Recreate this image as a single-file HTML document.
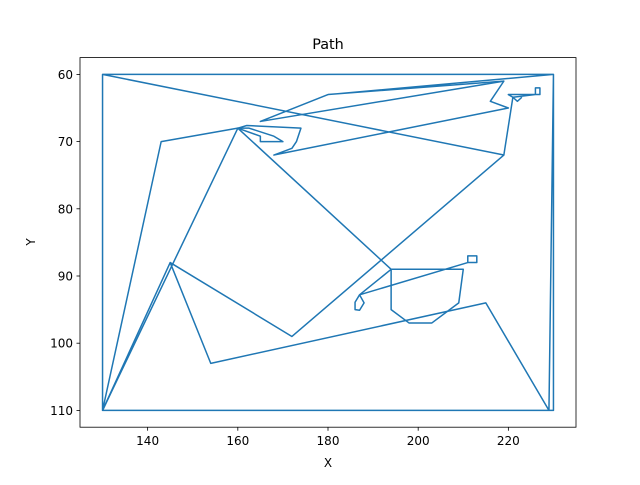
<!DOCTYPE html>
<html><head><meta charset="utf-8"><style>
body{margin:0;background:#fff;font-family:"Liberation Sans","DejaVu Sans",sans-serif}
</style></head><body>
<svg id="chart" width="640" height="480" xmlns="http://www.w3.org/2000/svg" font-family="DejaVu Sans, Liberation Sans, sans-serif">
<rect width="640" height="480" fill="#fff"/>
<text x="328" y="49" font-size="14.4" text-anchor="middle">Path</text>
<text x="328" y="467" font-size="12" text-anchor="middle">X</text>
<text x="35" y="242" font-size="12" text-anchor="middle" transform="rotate(-90 35 242)">Y</text>
<g id="ticks"></g>
<g id="lines"></g>
<rect x="80" y="57.6" width="496" height="369.6" fill="none" stroke="#000" stroke-width="0.8"/>
</svg>
<script>
const xTicks=[140,160,180,200,220];
const yTicks=[60,70,80,90,100,110];
const xs=[130,230,230,130,130,219,172,145,154,215,229,230,180,219,216,220,168,172,173,174,162,160,143,130,145];
const ys=[60,60,110,110,60,72,99,88,103,94,110,60,63,61,64,65,72,71,70,68,67.6,68,70,110,88];
const xs2=[130,160,165,165,170,168,162.5,160,194,210,209,203,198,194,194,187,186,186,187,188,187,211,211,213,213,211];
const ys2=[110,68,69.2,70,70,69.2,68,68,89,89,94,97,97,95,89,92.8,93.9,95,95.1,94,92.8,88,87,87,88,88];
const xs3=[219,221,220,226,226,227,227,226,221,222,223];
const ys3=[72,63.4,63,63,62,62,63,63,63.4,64,63.4];
const xs4=[219,165,180];
const ys4=[61,67,63];
const X0=125,X1=235,Y0=57.5,Y1=112.5;
function sx(v){return 80+(v-X0)/(X1-X0)*496;}
function sy(v){return 57.6+(v-Y0)/(Y1-Y0)*369.6;}
const NS="http://www.w3.org/2000/svg";
const lg=document.getElementById('lines');
[[xs,ys],[xs2,ys2],[xs3,ys3],[xs4,ys4]].forEach(([a,b])=>{
 const p=document.createElementNS(NS,'polyline');
 
 
 p.setAttribute('points',a.map((x,i)=>sx(x)+","+sy(b[i])).join(' '));
 p.setAttribute('fill','none');p.setAttribute('stroke','#1f77b4');p.setAttribute('stroke-width','1.5');p.setAttribute('stroke-linejoin','round');
 lg.appendChild(p);
});
const g=document.getElementById('ticks');
xTicks.forEach(t=>{
 const l=document.createElementNS(NS,'line');
 
 
 l.setAttribute('x1',sx(t));l.setAttribute('x2',sx(t));l.setAttribute('y1',427.2);l.setAttribute('y2',430.7);l.setAttribute('stroke','#000');l.setAttribute('stroke-width','0.8');g.appendChild(l);
 const tx=document.createElementNS(NS,'text');
 
 
 tx.setAttribute('x',sx(t));tx.setAttribute('y',445);tx.setAttribute('font-size','12');tx.setAttribute('text-anchor','middle');tx.textContent=t;g.appendChild(tx);
});
yTicks.forEach(t=>{
 const l=document.createElementNS(NS,'line');
 
 
 l.setAttribute('x1',76.5);l.setAttribute('x2',80);l.setAttribute('y1',sy(t));l.setAttribute('y2',sy(t));l.setAttribute('stroke','#000');l.setAttribute('stroke-width','0.8');g.appendChild(l);
 const tx=document.createElementNS(NS,'text');
 
 
 tx.setAttribute('x',73);tx.setAttribute('y',sy(t)+4.5);tx.setAttribute('font-size','12');tx.setAttribute('text-anchor','end');tx.textContent=t;g.appendChild(tx);
});
</script>
</body></html>
